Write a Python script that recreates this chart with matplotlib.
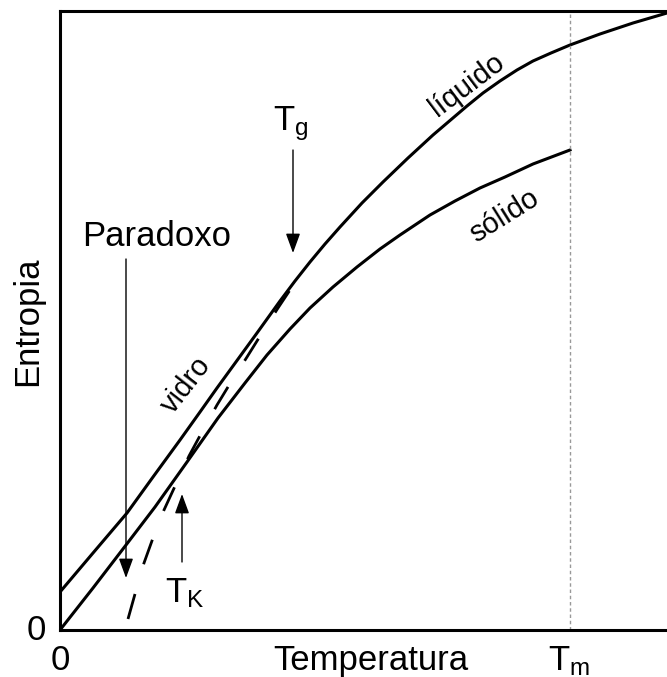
import matplotlib
matplotlib.use('Agg')
import matplotlib.pyplot as plt

plt.rcParams['font.family'] = ['Liberation Sans', 'DejaVu Sans']
plt.rcParams['mathtext.fontset'] = 'custom'
plt.rcParams['mathtext.rm'] = 'Liberation Sans'
plt.rcParams['mathtext.it'] = 'Liberation Sans'
plt.rcParams['lines.scale_dashes'] = False

# unidades arbitrarias (Tm = 510)
liq_T = [0, 33, 67, 93, 120, 140, 157, 173, 197, 220, 235, 250, 265, 280, 302, 323,
         348, 373, 407, 423, 440, 457, 473, 491, 510, 540, 573, 607]
liq_S = [38, 77, 117, 153, 190, 218, 242, 264, 297, 329, 349, 368, 386, 403, 427, 448,
         472, 495, 524, 537, 549, 560, 569, 577, 585, 596, 607, 617]

sol_T = [0, 33, 66, 95, 127, 158, 185, 207, 230, 250, 273, 297, 320, 340, 370, 395,
         420, 445, 473, 510]
sol_S = [0, 42, 85, 123, 168, 212, 247, 275, 301, 322, 343, 363, 381, 395, 415, 429,
         442, 453, 466, 480]

vid_T = [68, 75, 84, 93, 104, 116, 129, 142, 157, 171, 187, 202, 218, 232]
vid_S = [11, 36, 67, 92, 120, 146, 174, 198, 225, 248, 273, 297, 322, 343]

Tm = 510
Tg = 233
TK = 122
T_paradoxo = 66

fig = plt.figure(figsize=(6.67, 6.77), dpi=100)
ax = fig.add_axes([60/667, 47/677, 607/667, 619/677])
ax.set_xlim(0, 607)
ax.set_ylim(0, 619)

ax.plot(liq_T, liq_S, color='black', lw=2.2, solid_joinstyle='round')
ax.plot(sol_T, sol_S, color='black', lw=2.2, solid_joinstyle='round')
ax.plot(vid_T, vid_S, color='black', lw=2.0, dashes=(18.7, 22.3), dash_capstyle='butt')

ax.axvline(Tm, color='#999999', lw=1.0, dashes=(2.5, 2))

for s in ['top', 'left', 'bottom']:
    ax.spines[s].set_linewidth(2.2)
ax.spines['right'].set_visible(False)
ax.set_xticks([])
ax.set_yticks([])

arrow = dict(arrowstyle='-|>,head_length=0.6,head_width=0.22', mutation_scale=20,
             lw=1.0, color='black', shrinkA=0, shrinkB=0)
ax.annotate('', xy=(Tg, 377), xytext=(Tg, 480), arrowprops=arrow)
ax.annotate('', xy=(T_paradoxo, 52), xytext=(T_paradoxo, 371), arrowprops=arrow)
ax.annotate('', xy=(TK, 136), xytext=(TK, 68), arrowprops=arrow)

ax.text(231, 500, r'$\mathrm{T_g}$', fontsize=25, ha='center', va='baseline')
ax.text(97, 384, 'Paradoxo', fontsize=25, ha='center', va='baseline')
ax.text(125, 28, r'$\mathrm{T_K}$', fontsize=25, ha='center', va='baseline')

ax.text(407, 545, 'líquido', fontsize=21, rotation=37, ha='center', va='center',
        rotation_mode='anchor')
ax.text(444, 414, 'sólido', fontsize=21, rotation=32, ha='center', va='center',
        rotation_mode='anchor')
ax.text(126, 245, 'vidro', fontsize=21, rotation=52, ha='center', va='center',
        rotation_mode='anchor')

ax.text(0, -40, '0', fontsize=25, ha='center', va='baseline', clip_on=False)
ax.text(-24, 0, '0', fontsize=25, ha='center', va='center', clip_on=False)
ax.text(311, -40, 'Temperatura', fontsize=25, ha='center', va='baseline', clip_on=False)
ax.text(509, -40, r'$\mathrm{T_m}$', fontsize=25, ha='center', va='baseline', clip_on=False)
ax.text(-32, 309, 'Entropia', fontsize=25, rotation=90, ha='center', va='center',
        clip_on=False)

fig.savefig('out.png', dpi=100)
